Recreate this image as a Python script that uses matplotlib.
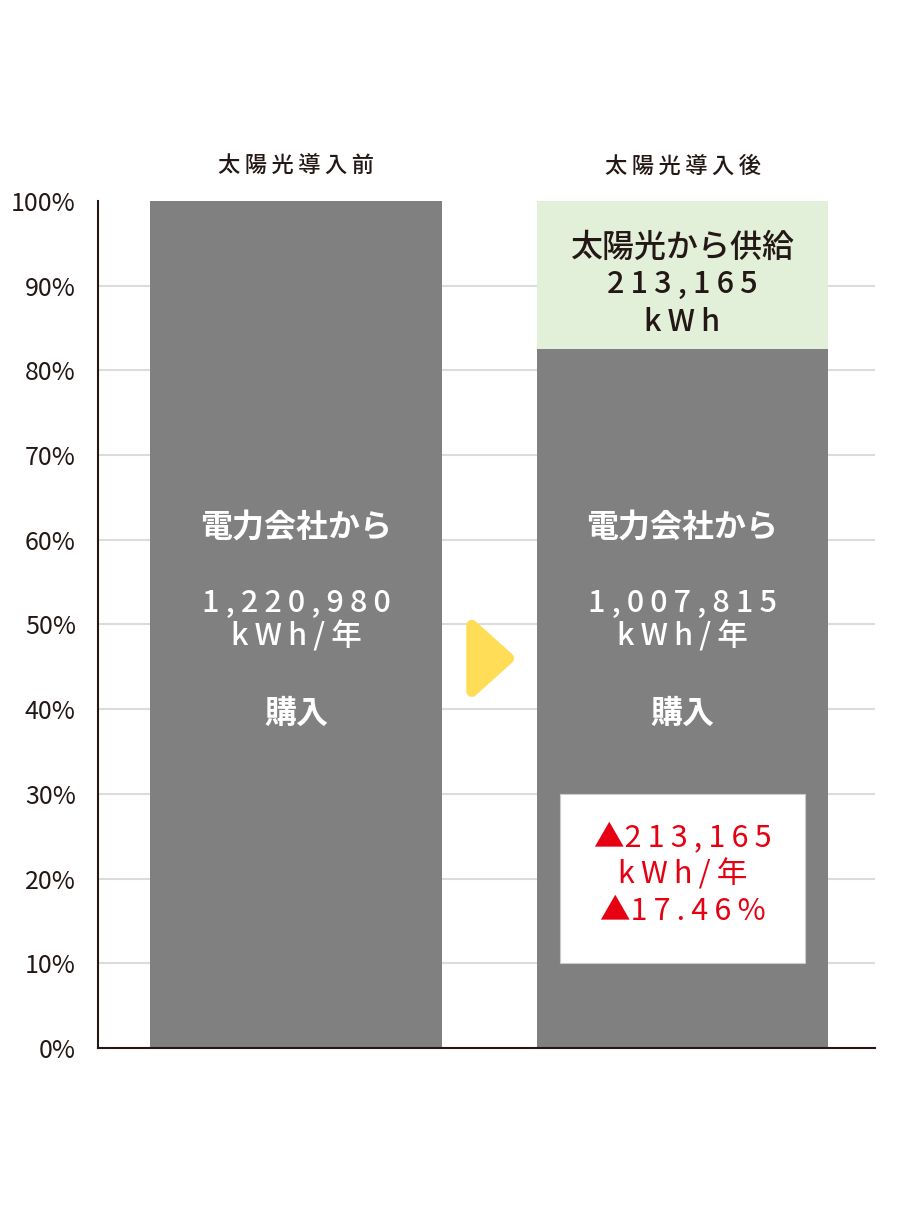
import numpy as np
import matplotlib.pyplot as plt
from matplotlib.patches import Polygon, Rectangle
from matplotlib.ticker import MultipleLocator, FuncFormatter

plt.rcParams['font.family'] = ['Noto Sans CJK JP', 'DejaVu Sans']

categories = ['太陽光導入前', '太陽光導入後']
grid_kwh = np.array([1220980, 1007815])
solar_kwh = np.array([0, 213165])
ticks = np.arange(0, 101, 10)

total = grid_kwh[0]
grid_pct = grid_kwh / total * 100
solar_pct = solar_kwh / total * 100
saved_pct = solar_kwh[1] / total * 100

GRAY = '#808080'
GREEN = '#e2efd9'
YELLOW = '#ffdd57'
RED = '#e60012'
DARK = '#231815'
TS = '\u2009'


def spaced(s):
    return TS.join(s)


fig = plt.figure(figsize=(9.04, 12.18), dpi=100)
ax = fig.add_axes([0.1084, 0.1396, 0.8596, 0.6954])

x = np.arange(len(categories))
w = 0.755
ax.bar(x, grid_pct, w, color=GRAY, zorder=2)
ax.bar(x, solar_pct, w, bottom=grid_pct, color=GREEN, zorder=2)

for t in ticks[1:-1]:
    ax.axhline(t, color='#dcdcdc', lw=1.5, zorder=1)

ax.set_xlim(-0.512, 1.498)
ax.set_ylim(0, 100)
ax.yaxis.set_major_locator(MultipleLocator(10))
ax.yaxis.set_major_formatter(FuncFormatter(lambda v, p: f'{v:.0f}%'))
ax.tick_params(axis='y', length=0, pad=16, labelsize=18, labelcolor=DARK)
ax.set_xticks([])
for s in ['top', 'right']:
    ax.spines[s].set_visible(False)
ax.spines['left'].set_linewidth(1.5)
ax.spines['bottom'].set_linewidth(1.5)
ax.spines['left'].set_color(DARK)
ax.spines['bottom'].set_color(DARK)

# category labels above bars
for xi, c in zip(x, categories):
    ax.text(xi, 104.1, spaced(c), ha='center', va='center', fontsize=16,
            color=DARK, fontweight='medium', clip_on=False)

# text inside grey bars
for xi, v in zip(x, grid_kwh):
    ax.text(xi, 61.4, '電力会社から', ha='center', va='center', fontsize=23,
            color='white', fontweight='bold')
    ax.text(xi, 52.5, spaced(f'{v:,}'), ha='center', va='center', fontsize=22,
            color='white', fontweight='medium')
    ax.text(xi, 48.5, spaced('kWh/年'), ha='center', va='center', fontsize=22,
            color='white', fontweight='medium')
    ax.text(xi, 39.5, '購入', ha='center', va='center', fontsize=23,
            color='white', fontweight='bold')

# solar segment text
ax.text(x[1], 94.4, '太陽光から供給', ha='center', va='center', fontsize=23,
        color=DARK, fontweight='medium')
ax.text(x[1], 90.1, spaced(f'{solar_kwh[1]:,}'), ha='center', va='center',
        fontsize=22, color=DARK, fontweight='medium')
ax.text(x[1], 85.7, spaced('kWh'), ha='center', va='center', fontsize=22,
        color=DARK, fontweight='medium')

# reduction box
ax.add_patch(Rectangle((x[1] - 0.317, 10), 0.634, 20, facecolor='white',
                       edgecolor='#cccccc', lw=0.8, zorder=3))
ax.text(x[1], 24.8, '▲' + spaced(f'{solar_kwh[1]:,}'), ha='center',
        va='center', fontsize=22, color=RED, zorder=4)
ax.text(x[1], 20.4, spaced('kWh/年'), ha='center', va='center', fontsize=22,
        color=RED, zorder=4)
ax.text(x[1], 16.1, '▲' + spaced(f'{saved_pct:.2f}%'), ha='center',
        va='center', fontsize=22, color=RED, zorder=4)

# yellow arrow between bars
cx, cy = 0.5, 46.0
hw, hh = 0.045, 3.9
tri = Polygon([[cx - hw, cy + hh], [cx + hw + 0.005, cy], [cx - hw, cy - hh]],
              closed=True, facecolor=YELLOW, edgecolor=YELLOW, lw=8,
              joinstyle='round', zorder=3)
ax.add_patch(tri)

fig.savefig('out.png', dpi=100)
